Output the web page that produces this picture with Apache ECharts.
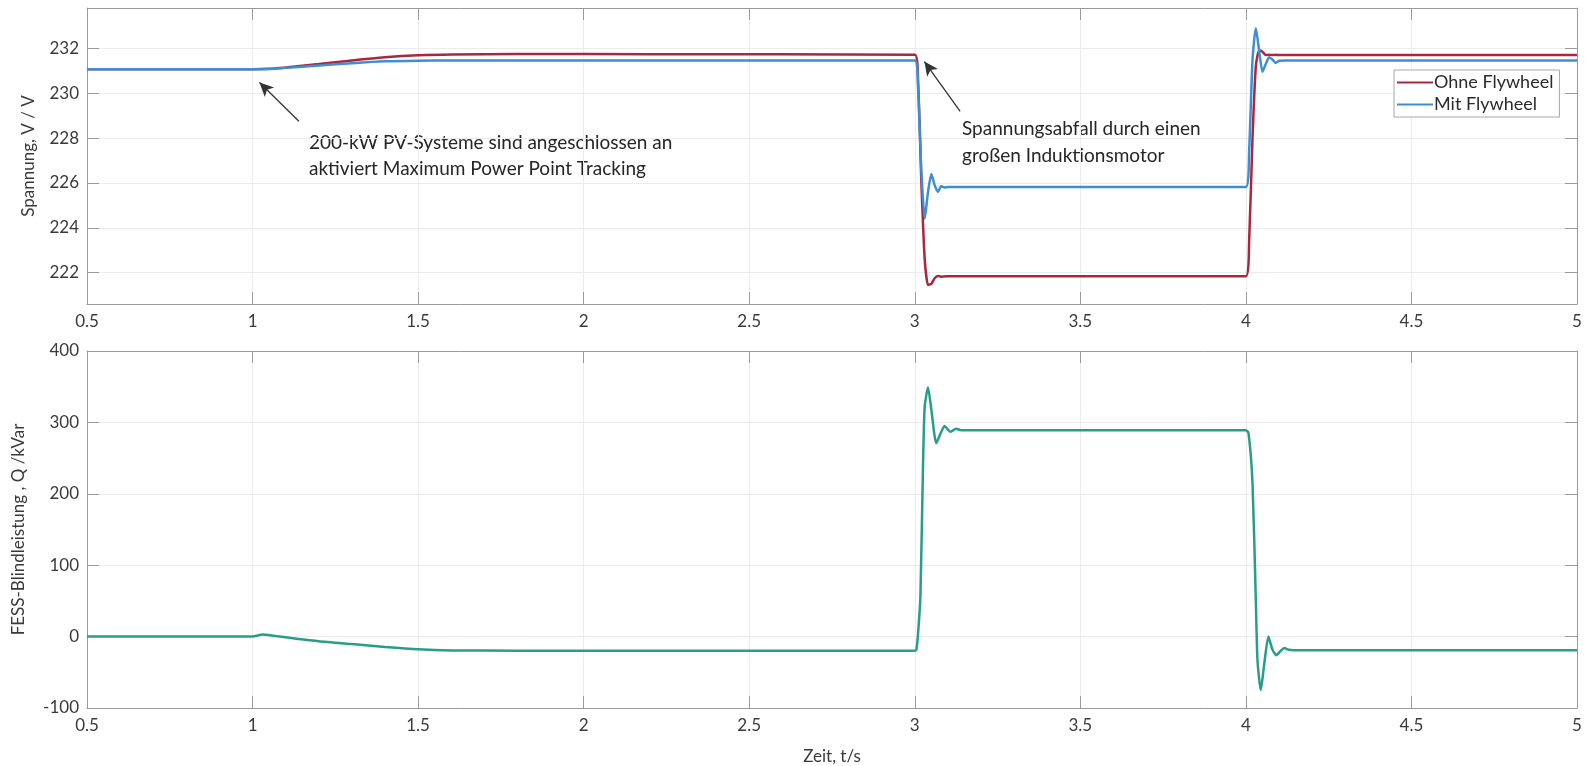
<!DOCTYPE html>
<html>
<head>
<meta charset="utf-8">
<title>Spannung / Blindleistung</title>
<script src="https://cdn.jsdelivr.net/npm/echarts@6/dist/echarts.min.js"></script>
<style>
  html, body { margin: 0; padding: 0; background: #fff; }
  #chart { width: 1591px; height: 766px; }
</style>
</head>
<body>
<div id="chart"></div>
<script>
// time axis (s) for the voltage plot
var tTop = [0.5, 1.0, 1.05, 1.1, 1.2, 1.3, 1.4, 1.5, 1.6, 1.8, 2.2, 3.0,
    3.01, 3.02, 3.03, 3.04, 3.05, 3.06, 3.07, 3.08, 3.09, 3.1, 3.12,
    4.0, 4.01, 4.02, 4.03, 4.04, 4.05, 4.06, 4.07, 4.08, 4.09, 4.1, 4.12, 5.0];
// Spannung ohne Flywheel (V)
var ohne = [231.07, 231.07, 231.09, 231.15, 231.3, 231.46, 231.6, 231.69, 231.73, 231.75, 231.74, 231.72,
    230.5, 226.0, 222.6, 221.45, 221.5, 221.75, 221.85, 221.82, 221.83, 221.84, 221.84,
    221.84, 223.5, 228.0, 231.2, 231.9, 231.85, 231.7, 231.72, 231.7, 231.71, 231.7, 231.7, 231.7];
// Spannung mit Flywheel (V)
var mit = [231.07, 231.07, 231.08, 231.13, 231.24, 231.34, 231.42, 231.45, 231.46, 231.46, 231.46, 231.46,
    230.2, 226.5, 224.4, 225.6, 226.4, 225.9, 225.6, 225.85, 225.8, 225.82, 225.82,
    225.82, 227.5, 231.5, 232.9, 231.9, 230.96, 231.3, 231.6, 231.5, 231.35, 231.45, 231.46, 231.46];

// time axis (s) for the reactive power plot
var tBot = [0.5, 1.0, 1.03, 1.1, 1.2, 1.3, 1.4, 1.5, 1.6, 1.8, 3.0,
    3.005, 3.01, 3.017, 3.025, 3.03, 3.04, 3.05, 3.065, 3.08, 3.09, 3.1, 3.107, 3.125, 3.14,
    4.0, 4.008, 4.02, 4.03, 4.035, 4.045, 4.055, 4.068, 4.08, 4.092, 4.105, 4.116, 4.13, 4.143, 5.0];
// FESS-Blindleistung (kVar)
var qFess = [0, 0, 3, -1, -6.5, -10.5, -14.5, -17.8, -19.3, -19.7, -19.7,
    -18, 5, 56, 243, 322, 349, 318, 271, 287, 295, 290, 287, 291, 289,
    289, 285, 215, 51, -33, -75, -40, 0, -18, -26, -20, -16, -18.5, -19, -19];

var voltTicks = [222, 224, 226, 228, 230, 232];

var legendNames = ['Ohne Flywheel', 'Mit Flywheel'];
var annoPV = '200-kW PV-Systeme sind angeschlossen an\naktiviert Maximum Power Point Tracking';
var annoDrop = 'Spannungsabfall durch einen\ngroßen Induktionsmotor';

function pairs(t, v) {
    var out = [];
    for (var i = 0; i < t.length; i++) out.push([t[i], v[i]]);
    return out;
}

var FONT = 'Lato, "Open Sans", sans-serif';
var frame = '#9a9a9a';
var gridCol = '#ececec';

function xAx(gi, pos, labels) {
    return {
        type: 'value', gridIndex: gi, position: pos,
        min: 0.5, max: 5, interval: 0.5,
        axisLine: { show: true, onZero: false, lineStyle: { color: frame, width: 1 } },
        axisTick: { show: true, inside: true, length: 12, lineStyle: { color: frame } },
        axisLabel: { show: labels, color: '#3a3a3a', fontSize: 17, fontFamily: FONT, margin: 9 },
        splitLine: { show: labels, lineStyle: { color: gridCol } }
    };
}

function yAx(gi, pos, labels, extra) {
    var a = {
        type: 'value', gridIndex: gi, position: pos,
        axisLine: { show: true, onZero: false, lineStyle: { color: frame, width: 1 } },
        axisTick: { show: true, inside: true, length: 12, lineStyle: { color: frame } },
        axisLabel: { show: labels, color: '#3a3a3a', fontSize: 17, fontFamily: FONT, margin: 8 },
        splitLine: { show: labels, lineStyle: { color: gridCol } }
    };
    for (var k in extra) a[k] = extra[k];
    if (extra.customValues) {
        a.axisTick.customValues = extra.customValues;
        a.axisLabel.customValues = extra.customValues;
        delete a.customValues;
    }
    return a;
}

var topY = { min: 220.6, max: 233.8 };
var botY = { min: -100, max: 400, interval: 100 };

var chart = echarts.init(document.getElementById('chart'));
var option = {
    backgroundColor: '#fff',
    animation: false,
    textStyle: { fontFamily: FONT },
    grid: [
        { left: 87, right: 14, top: 8, height: 296 },
        { left: 87, right: 14, top: 351, height: 357 }
    ],
    legend: {
        data: [
            { name: legendNames[0], icon: 'rect' },
            { name: legendNames[1], icon: 'rect' }
        ],
        orient: 'vertical',
        left: 1394, top: 70,
        backgroundColor: '#fff',
        borderColor: '#a8a8a8', borderWidth: 1, borderRadius: 0,
        padding: [3, 6, 3, 3],
        itemGap: 3, itemWidth: 36, itemHeight: 2,
        textStyle: { fontSize: 18, color: '#2b2b2b', fontFamily: FONT, padding: [0, 0, 0, -4], height: 19, lineHeight: 19 }
    },
    xAxis: [
        xAx(0, 'bottom', true),
        xAx(0, 'top', false),
        (function() {
            var a = xAx(1, 'bottom', true);
            a.name = 'Zeit, t/s';
            a.nameLocation = 'middle';
            a.nameGap = 40;
            a.nameTextStyle = { fontSize: 17, color: '#3a3a3a', fontFamily: FONT };
            return a;
        })(),
        xAx(1, 'top', false)
    ],
    yAxis: [
        yAx(0, 'left', true, {
            min: topY.min, max: topY.max, customValues: voltTicks,
            name: 'Spannung, V / V', nameLocation: 'middle', nameRotate: 90, nameGap: 50,
            nameTextStyle: { fontSize: 17, color: '#3a3a3a', fontFamily: FONT }
        }),
        yAx(0, 'right', false, { min: topY.min, max: topY.max, customValues: voltTicks }),
        yAx(1, 'left', true, {
            min: botY.min, max: botY.max, interval: botY.interval,
            name: 'FESS-Blindleistung , Q /kVar', nameLocation: 'middle', nameRotate: 90, nameGap: 60,
            nameTextStyle: { fontSize: 17, color: '#3a3a3a', fontFamily: FONT }
        }),
        yAx(1, 'right', false, { min: botY.min, max: botY.max, interval: botY.interval })
    ],
    series: [
        {
            name: 'Ohne Flywheel', type: 'line', xAxisIndex: 0, yAxisIndex: 0,
            symbol: 'none', smooth: 0.2,
            lineStyle: { color: '#a8283f', width: 2.5 },
            itemStyle: { color: '#a8283f' },
            data: pairs(tTop, ohne),
            markLine: {
                silent: true, animation: false,
                symbol: ['none', 'arrow'], symbolSize: [10, 14],
                lineStyle: { color: '#333', width: 1.3, type: 'solid' },
                label: { show: false },
                data: [
                    [{ coord: [1.14, 228.75] }, { coord: [1.021, 230.48] }],
                    [{ coord: [3.137, 229.19] }, { coord: [3.029, 231.41] }]
                ]
            }
        },
        {
            name: 'Mit Flywheel', type: 'line', xAxisIndex: 0, yAxisIndex: 0,
            symbol: 'none', smooth: 0.2,
            lineStyle: { color: '#3d8fd1', width: 2.5 },
            itemStyle: { color: '#3d8fd1' },
            data: pairs(tTop, mit)
        },
        {
            name: 'Q', type: 'line', xAxisIndex: 2, yAxisIndex: 2,
            symbol: 'none', smooth: 0.2,
            lineStyle: { color: '#2a9d8a', width: 2.5 },
            itemStyle: { color: '#2a9d8a' },
            data: pairs(tBot, qFess)
        }
    ],
    graphic: [
        {
            type: 'text', left: 309, top: 130, silent: true,
            style: { text: annoPV, fontSize: 19, lineHeight: 26, fill: '#262626', fontFamily: FONT }
        },
        {
            type: 'text', left: 962, top: 115, silent: true,
            style: { text: annoDrop, fontSize: 19, lineHeight: 27, fill: '#262626', fontFamily: FONT }
        }
    ]
};
chart.setOption(option);
</script>
</body>
</html>
